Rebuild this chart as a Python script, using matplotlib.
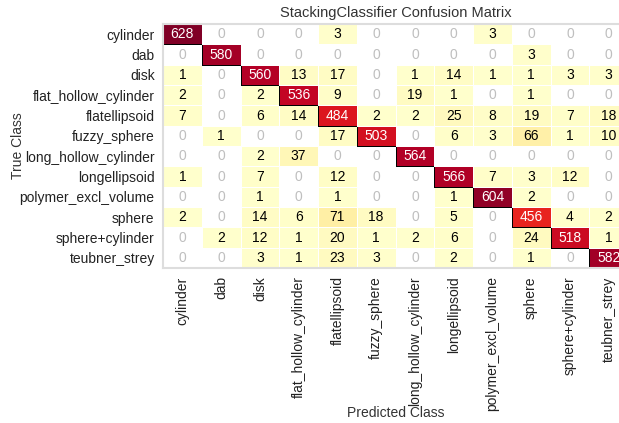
import numpy as np
import matplotlib
matplotlib.use("Agg")
import matplotlib.pyplot as plt

plt.rcParams['font.family'] = ['Liberation Sans', 'DejaVu Sans']

# class names, in the order they are shown
classes = ["cylinder", "dab", "disk", "flat_hollow_cylinder", "flatellipsoid",
           "fuzzy_sphere", "long_hollow_cylinder", "longellipsoid",
           "polymer_excl_volume", "sphere", "sphere+cylinder", "teubner_strey"]

# confusion matrix, rows = true class, columns = predicted class
cm = np.array([
    [628, 0, 0, 0, 3, 0, 0, 0, 3, 0, 0, 0],
    [0, 580, 0, 0, 0, 0, 0, 0, 0, 3, 0, 0],
    [1, 0, 560, 13, 17, 0, 1, 14, 1, 1, 3, 3],
    [2, 0, 2, 536, 9, 0, 19, 1, 0, 1, 0, 0],
    [7, 0, 6, 14, 484, 2, 2, 25, 8, 19, 7, 18],
    [0, 1, 0, 0, 17, 503, 0, 6, 3, 66, 1, 10],
    [0, 0, 2, 37, 0, 0, 564, 0, 0, 0, 0, 0],
    [1, 0, 7, 0, 12, 0, 0, 566, 7, 3, 12, 0],
    [0, 0, 1, 0, 1, 0, 0, 1, 604, 2, 0, 0],
    [2, 0, 14, 6, 71, 18, 0, 5, 0, 456, 4, 2],
    [0, 2, 12, 1, 20, 1, 2, 6, 0, 24, 518, 1],
    [0, 0, 3, 1, 23, 3, 0, 2, 0, 1, 0, 582],
])

n = len(classes)
cmap = plt.get_cmap("YlOrRd").copy()
cmap.set_under("w")

fig = plt.figure(figsize=(6.19, 4.23), dpi=100)
ax = fig.add_axes([163/619, 155/423, 465/619, 244/423])

# flip so the first class is on top
disp = cm[::-1, :]
vmax = disp.max()

edges = []
for i in range(n):
    for j in range(n):
        v = disp[i, j]
        rgba = cmap(v / vmax)
        lum = 0.299*rgba[0] + 0.587*rgba[1] + 0.114*rgba[2]
        tc = "w" if lum < 0.5 else "k"
        if v == 0:
            tc = "0.75"
        ax.text(j + 0.5, i + 0.5, str(v), ha="center", va="center",
                color=tc, fontsize=10)
        edges.append("k" if classes[j] == classes[::-1][i] else "w")

X = np.arange(n + 1)
ax.pcolormesh(X, X, disp, vmin=0.00001, vmax=vmax, cmap=cmap,
              edgecolors=edges, linewidth=0.6)

ax.set_xlim(0, n)
ax.set_ylim(0, n)
ticks = np.arange(n) + 0.5
ax.set_xticks(ticks)
ax.set_yticks(ticks)
ax.set_xticklabels(classes, rotation="vertical", fontsize=10, color="#222222")
ax.set_yticklabels(classes[::-1], fontsize=10, color="#222222")
ax.tick_params(length=0, pad=6)
for s in ax.spines.values():
    s.set_color("#DDDDDD")
    s.set_linewidth(1.5)

ax.set_title("StackingClassifier Confusion Matrix", fontsize=10.5, color="#333333", pad=5)
ax.set_xlabel("Predicted Class", fontsize=10, color="#333333", labelpad=-4)
ax.set_ylabel("True Class", fontsize=10, color="#333333", labelpad=-4)

fig.savefig("out.png", dpi=100)
